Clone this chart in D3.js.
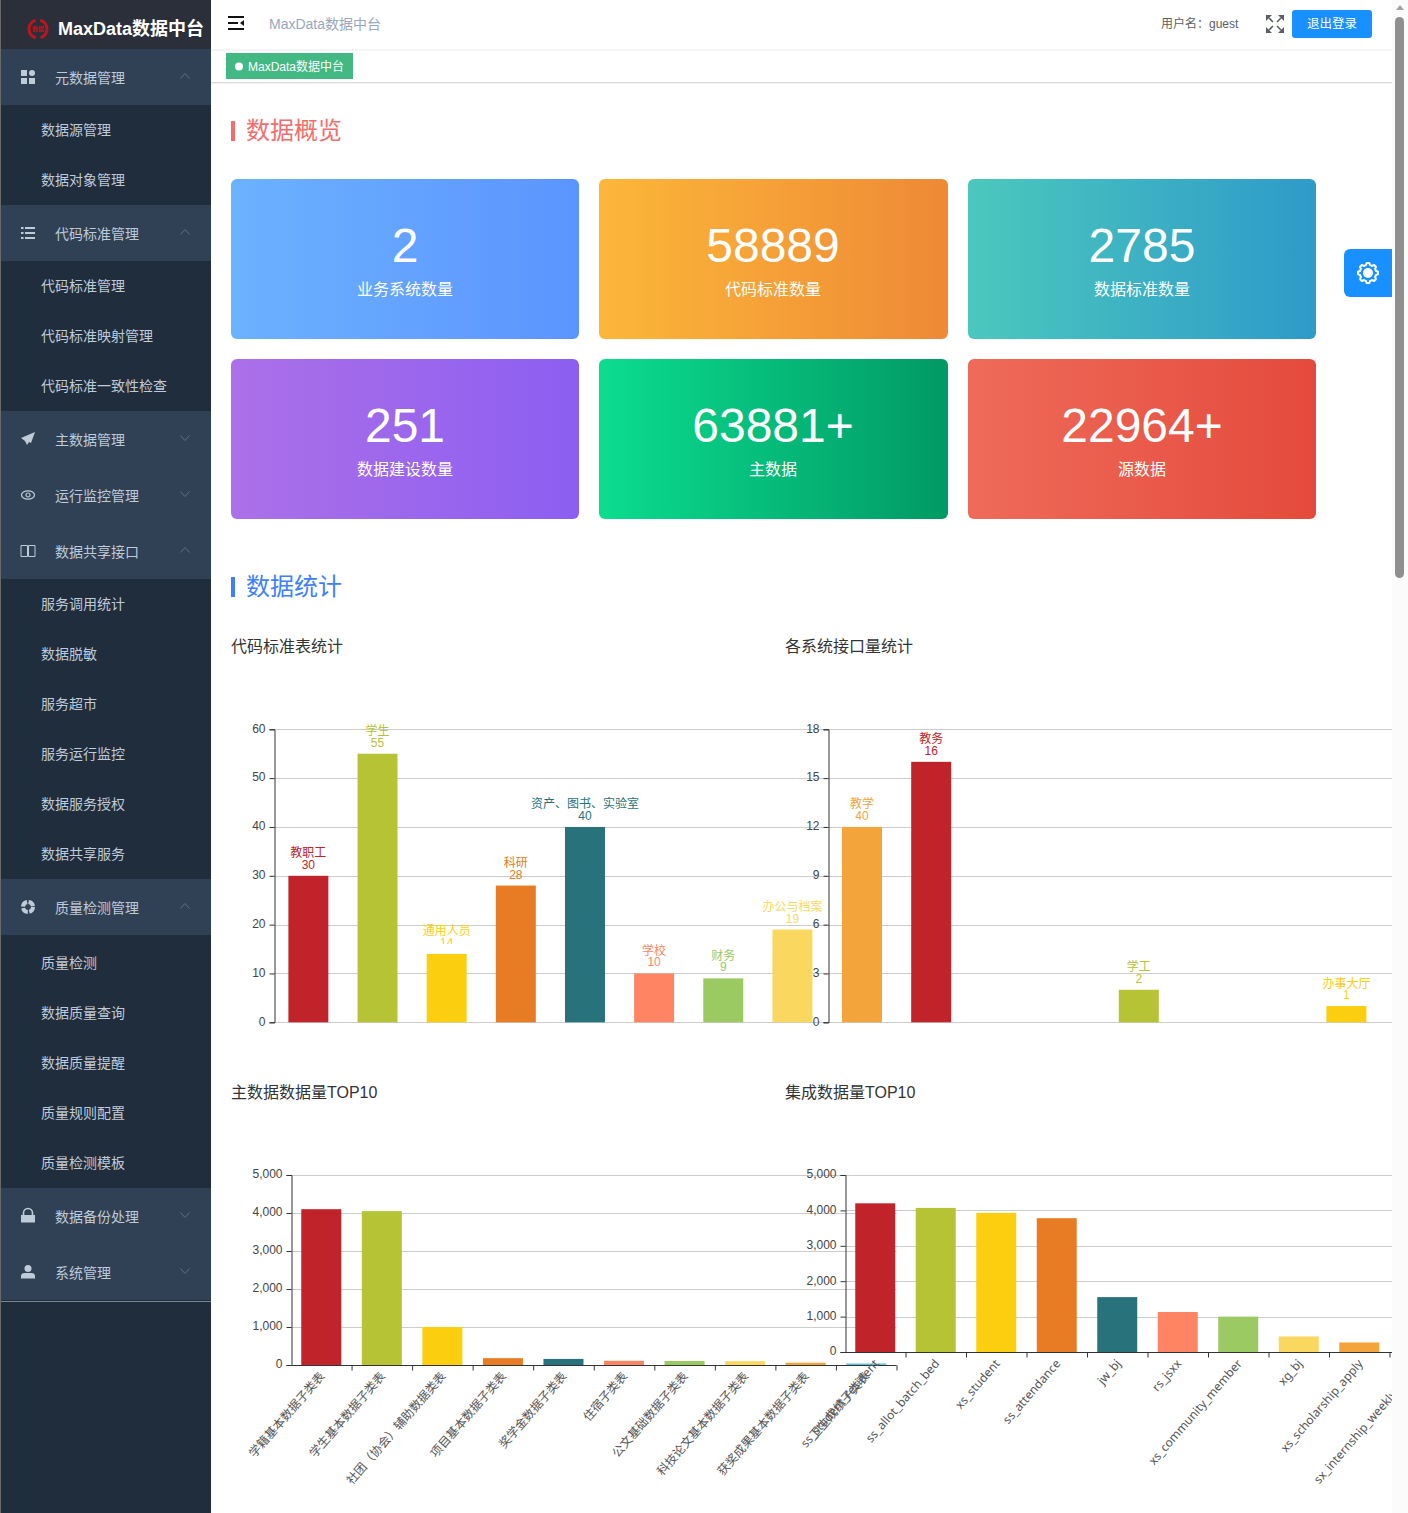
<!DOCTYPE html>
<html>
<head>
<meta charset="utf-8">
<title>MaxData数据中台</title>
<script src="https://d3js.org/d3.v7.min.js"></script>
<style>
html, body { margin: 0; padding: 0; background: #fff; overflow: hidden; }
svg { display: block; }
text { font-family: "Liberation Sans", "Noto Sans CJK SC", sans-serif; }
</style>
</head>
<body>
<div id="page"></div>
<script>
// sidebar menu
const menu = [
    { name: "元数据管理", icon: "grid", open: true, subs: ["数据源管理", "数据对象管理"] },
    { name: "代码标准管理", icon: "list", open: true, subs: ["代码标准管理", "代码标准映射管理", "代码标准一致性检查"] },
    { name: "主数据管理", icon: "plane", open: false, subs: [] },
    { name: "运行监控管理", icon: "eye", open: false, subs: [] },
    { name: "数据共享接口", icon: "book", open: true, subs: ["服务调用统计", "数据脱敏", "服务超市", "服务运行监控", "数据服务授权", "数据共享服务"] },
    { name: "质量检测管理", icon: "ring", open: true, subs: ["质量检测", "数据质量查询", "数据质量提醒", "质量规则配置", "质量检测模板"] },
    { name: "数据备份处理", icon: "lock", open: false, subs: [] },
    { name: "系统管理", icon: "user", open: false, subs: [] }
];

// overview cards
const cardNumbers = ["2", "58889", "2785", "251", "63881+", "22964+"];
const cardLabels = ["业务系统数量", "代码标准数量", "数据标准数量", "数据建设数量", "主数据", "源数据"];
const cardColors = [
    ["#6bb2ff", "#5b94ff"], ["#fcb739", "#ee8936"], ["#4bc8bd", "#2e9ac9"],
    ["#ac70e8", "#8c5ef1"], ["#0bdd8f", "#019965"], ["#ef6b59", "#e44a3c"]
];

// chart colours
const palette = ["#C1232B", "#B5C334", "#FCCE10", "#E87C25", "#27727B", "#FE8463", "#9BCA63", "#FAD860", "#F3A43B", "#60C0DD"];

// 代码标准表统计
const codeNames = ["教职工", "学生", "通用人员", "科研", "资产、图书、实验室", "学校", "财务", "办公与档案"];
const codeValues = [30, 55, 14, 28, 40, 10, 9, 19];
const codeTicks = [0, 10, 20, 30, 40, 50, 60];

// 各系统接口量统计
const apiNames = ["教学", "教务", "", "", "学工", "", "", "办事大厅"];
const apiValues = [12, 16, 0, 0, 2, 0, 0, 1];
const apiLabels = ["40", "16", "", "", "2", "", "", "1"];
const apiColors = ["#F3A43B", "#C1232B", "#FCCE10", "#E87C25", "#B5C334", "#FE8463", "#9BCA63", "#FCCE10"];
const apiTicks = [0, 3, 6, 9, 12, 15, 18];

// 主数据数据量TOP10
const masterNames = ["学籍基本数据子类表", "学生基本数据子类表", "社团（协会）辅助数据类表", "项目基本数据子类表", "奖学金数据子类表", "住宿子类表", "公文基础数据子类表", "科技论文基本数据子类表", "获奖成果基本数据子类表", "卫生成绩子类表"];
const masterValues = [4100, 4050, 1000, 180, 160, 110, 105, 100, 60, 40];

// 集成数据量TOP10
const integrationNames = ["ss_student_resident", "ss_allot_batch_bed", "xs_student", "ss_attendance", "jw_bj", "rs_jsxx", "xs_community_member", "xg_bj", "xs_scholarship_apply", "sx_internship_weekly_report"];
const integrationValues = [4200, 4070, 3930, 3780, 1550, 1130, 1000, 440, 270, 200];
const volumeTicks = [0, 1000, 2000, 3000, 4000, 5000];

const width = 1408;
const height = 1513;
const contentRight = 1392;

const root = d3.select("#page").append("svg")
    .attr("width", width)
    .attr("height", height)
    .attr("viewBox", `0 0 ${width} ${height}`);

const defs = root.append("defs");

function label(parent, x, y, str, size, color, anchor, weight) {
    return parent.append("text")
        .attr("x", x)
        .attr("y", y)
        .attr("dominant-baseline", "central")
        .attr("text-anchor", anchor || "start")
        .attr("font-size", size)
        .attr("font-weight", weight || "normal")
        .attr("fill", color)
        .text(str);
}

// ---------- charts first so the chrome sits above them ----------
const clipId = "content-clip";
defs.append("clipPath").attr("id", clipId).append("rect")
    .attr("x", 211).attr("y", 0).attr("width", contentRight - 211).attr("height", height);
const content = root.append("g").attr("clip-path", `url(#${clipId})`);

function barChart(opts) {
    const g = content.append("g");
    const n = opts.values.length;
    const y = d3.scaleLinear().domain(opts.domain).range(opts.yRange);
    const x = d3.scaleBand()
        .domain(d3.range(n))
        .range(opts.xRange)
        .paddingInner(opts.padding)
        .paddingOuter(opts.padding / 2);
    const xEdges = d3.scaleLinear().domain([0, n]).range(opts.xRange);
    const axisX = opts.axisX;

    // grid
    g.append("g").selectAll("line")
        .data(opts.ticks)
        .join("line")
        .attr("x1", axisX)
        .attr("x2", opts.gridRight || opts.xRange[1])
        .attr("y1", d => Math.round(y(d)) + 0.5)
        .attr("y2", d => Math.round(y(d)) + 0.5)
        .attr("stroke", "#ccc");

    // bars
    g.append("g").selectAll("rect")
        .data(opts.values)
        .join("rect")
        .attr("x", (d, i) => x(i))
        .attr("y", d => y(d))
        .attr("width", x.bandwidth())
        .attr("height", d => y(0) - y(d))
        .attr("fill", (d, i) => opts.colors[i]);

    // y axis
    const axisLeft = d3.axisLeft(y)
        .tickValues(opts.ticks)
        .tickSize(5)
        .tickPadding(4)
        .tickFormat(d3.format(","));
    const ay = g.append("g")
        .attr("transform", `translate(${axisX + 0.5},0)`)
        .call(axisLeft);
    ay.selectAll("path, line").attr("stroke", "#333");
    ay.selectAll("text")
        .attr("fill", "#444")
        .attr("font-size", 12)
        .attr("font-family", null)
        .attr("y", -1);

    // bar labels, name over value
    if (opts.names && opts.showLabels) {
        const lab = g.append("g");
        opts.values.forEach((v, i) => {
            if (!v) return;
            const cx = x(i) + x.bandwidth() / 2;
            const c = opts.colors[i];
            label(lab, cx, y(v) - 22.5, opts.names[i], 12, c, "middle");
            label(lab, cx, y(v) - 11, opts.valueLabels ? opts.valueLabels[i] : v, 12, c, "middle");
            if (opts.cutLabel === i) {
                lab.append("rect")
                    .attr("x", cx - 15)
                    .attr("y", y(v) - 10)
                    .attr("width", 30)
                    .attr("height", 9)
                    .attr("fill", "#fff");
            }
        });
    }

    // category axis with ticks between bars and slanted names
    if (opts.slanted) {
        const ax = g.append("g")
            .attr("transform", `translate(0,${y(0) + 0.5})`)
            .call(d3.axisBottom(xEdges).tickValues(d3.range(1, n + 1)).tickSize(5).tickFormat(""));
        ax.selectAll("path, line").attr("stroke", "#333");
        ax.select("path").attr("d", `M${axisX},0H${opts.xRange[1]}`);

        g.append("g").selectAll("text")
            .data(opts.names)
            .join("text")
            .attr("transform", (d, i) => `translate(${x(i) + x.bandwidth() / 2 + 1},${y(0) + 9}) rotate(-49)`)
            .attr("text-anchor", "end")
            .attr("dominant-baseline", "central")
            .attr("font-size", 12)
            .attr("fill", "#555")
            .style("font-family", opts.nameFont || null)
            .text(d => d);
    }
}

barChart({
    values: codeValues, names: codeNames, colors: palette, ticks: codeTicks, domain: [0, 60],
    axisX: 274, xRange: [273.8, 827], yRange: [1022.3, 729.3], padding: 0.422,
    showLabels: true, cutLabel: 2
});
barChart({
    values: apiValues, names: apiNames, colors: apiColors, ticks: apiTicks, domain: [0, 18],
    valueLabels: apiLabels,
    axisX: 828, xRange: [827.4, 1381], yRange: [1022.3, 729.3], padding: 0.422,
    gridRight: contentRight, showLabels: true
});
barChart({
    values: masterValues, names: masterNames, colors: palette, ticks: volumeTicks, domain: [0, 5000],
    axisX: 291, xRange: [291, 896.5], yRange: [1365, 1175], padding: 0.339,
    slanted: true
});
barChart({
    values: integrationValues, names: integrationNames, colors: palette, ticks: volumeTicks, domain: [0, 5000],
    axisX: 845, xRange: [845, 1450], yRange: [1352, 1175], padding: 0.339,
    slanted: true, nameFont: '"Noto Sans", "Noto Sans CJK SC", sans-serif'
});

// ---------- section headings ----------
const headings = [
    { text: "数据概览", color: "#f56c6c", cy: 131 },
    { text: "数据统计", color: "#3d7ffc", cy: 587 }
];
headings.forEach(h => {
    root.append("rect").attr("x", 231).attr("y", h.cy - 10).attr("width", 4).attr("height", 20).attr("fill", h.color);
    label(root, 246, h.cy - 0.5, h.text, 24, h.color);
});

const chartTitles = [
    { text: "代码标准表统计", x: 231, cy: 646 },
    { text: "各系统接口量统计", x: 785, cy: 646 },
    { text: "主数据数据量TOP10", x: 231, cy: 1092 },
    { text: "集成数据量TOP10", x: 785, cy: 1092 }
];
chartTitles.forEach(t => label(root, t.x, t.cy, t.text, 16, "#333"));

// ---------- cards ----------
const cardX = [231, 599, 968];
const cardY = [179, 359];
const cardW = 348;
cardNumbers.forEach((num, i) => {
    const gid = `card-grad-${i}`;
    const grad = defs.append("linearGradient").attr("id", gid);
    grad.append("stop").attr("offset", "0%").attr("stop-color", cardColors[i][0]);
    grad.append("stop").attr("offset", "100%").attr("stop-color", cardColors[i][1]);

    const x0 = cardX[i % 3];
    const y0 = cardY[Math.floor(i / 3)];
    const w = i % 3 === 1 ? cardW + 1 : cardW;
    root.append("rect")
        .attr("x", x0).attr("y", y0)
        .attr("width", w).attr("height", 160)
        .attr("rx", 6)
        .attr("fill", `url(#${gid})`);
    label(root, x0 + 174, y0 + 66, num, 48, "#fff", "middle");
    label(root, x0 + 174, y0 + 110, cardLabels[i], 16, "#fff", "middle");
});

// ---------- top bar ----------
root.append("rect").attr("x", 211).attr("y", 0).attr("width", contentRight - 211).attr("height", 49).attr("fill", "#fff");
root.append("rect").attr("x", 211).attr("y", 49).attr("width", contentRight - 211).attr("height", 2).attr("fill", "#f5f5f5");
root.append("rect").attr("x", 211).attr("y", 82).attr("width", contentRight - 211).attr("height", 1).attr("fill", "#dcdcdc");
root.append("rect").attr("x", 211).attr("y", 83).attr("width", contentRight - 211).attr("height", 1).attr("fill", "#f2f2f2");

const burger = root.append("g").attr("fill", "#111");
burger.append("rect").attr("x", 228).attr("y", 16).attr("width", 16).attr("height", 2);
burger.append("rect").attr("x", 228).attr("y", 22).attr("width", 10).attr("height", 2);
burger.append("rect").attr("x", 228).attr("y", 28).attr("width", 16).attr("height", 2);
burger.append("path").attr("d", "M244,20V26L240,23Z");

label(root, 269, 24, "MaxData数据中台", 14, "#97a8be");

root.append("rect").attr("x", 226).attr("y", 53).attr("width", 127).attr("height", 26).attr("fill", "#42b983");
root.append("circle").attr("cx", 239).attr("cy", 66.5).attr("r", 4).attr("fill", "#fff");
label(root, 248, 66.5, "MaxData数据中台", 12, "#fff");

label(root, 1161, 24, "用户名：guest", 12, "#5a5e66");

const expand = root.append("g").attr("fill", "#5a5e66").attr("stroke", "#5a5e66");
[[1266, 15, 1, 1], [1284, 15, -1, 1], [1266, 33, 1, -1], [1284, 33, -1, -1]].forEach(c => {
    const [cx, cy, sx, sy] = c;
    expand.append("path")
        .attr("stroke", "none")
        .attr("d", `M${cx},${cy}h${6 * sx}l${-6 * sx},${6 * sy}Z`);
    expand.append("line")
        .attr("x1", cx + 3 * sx).attr("y1", cy + 3 * sy)
        .attr("x2", cx + 7 * sx).attr("y2", cy + 7 * sy)
        .attr("stroke-width", 1.6);
});

root.append("rect").attr("x", 1292).attr("y", 10).attr("width", 80).attr("height", 28).attr("rx", 3).attr("fill", "#1890ff");
label(root, 1332, 24, "退出登录", 12.5, "#fff", "middle");

// settings tab
root.append("path").attr("d", "M1392,249H1350a6,6 0 0 0 -6,6V291a6,6 0 0 0 6,6H1392Z").attr("fill", "#1890ff");
const gearPoints = d3.range(0, 48).map(i => {
    const a = i / 48 * 2 * Math.PI;
    const r = (i + 1) % 6 < 3 ? 10 : 8.2;
    return [a, r];
});
root.append("path")
    .attr("transform", "translate(1368,273)")
    .attr("d", d3.lineRadial().curve(d3.curveCardinalClosed)(gearPoints))
    .attr("fill", "none")
    .attr("stroke", "#fff")
    .attr("stroke-width", 2);
root.append("circle").attr("cx", 1368).attr("cy", 273).attr("r", 5).attr("fill", "#fff");

// scrollbar
root.append("rect").attr("x", contentRight).attr("y", 0).attr("width", width - contentRight).attr("height", height).attr("fill", "#fbfbfb");
root.append("path").attr("d", "M1400,5L1404,10H1396Z").attr("fill", "#a3a3a3");
root.append("rect").attr("x", 1395).attr("y", 17).attr("width", 9).attr("height", 561).attr("rx", 4.5).attr("fill", "#8f8f8f");

// ---------- sidebar ----------
const side = root.append("g");
side.append("rect").attr("width", 211).attr("height", height).attr("fill", "#1f2d3d");
side.append("rect").attr("width", 211).attr("height", 49).attr("fill", "#2b2f3a");

const logo = side.append("g").attr("transform", "translate(38,29)");
const logoArc = d3.arc().innerRadius(7.5).outerRadius(10.5);
[[0.25, 2.85], [3.4, 6.0]].forEach(a => {
    logo.append("path")
        .attr("d", logoArc({ startAngle: a[0], endAngle: a[1] }))
        .attr("fill", "#c0141c");
});
logo.append("text")
    .attr("text-anchor", "middle").attr("dominant-baseline", "central")
    .attr("font-size", 6).attr("font-weight", "bold").attr("fill", "#c0141c").text("数据");
label(side, 58, 28.5, "MaxData数据中台", 18, "#fff", "start", "bold");

function drawIcon(g, kind, cx, cy) {
    const c = "#bfcbd9";
    const ic = g.append("g").attr("transform", `translate(${cx},${cy})`);
    if (kind === "grid") {
        [[-7, -7], [-7, 1], [1, 1]].forEach(p => ic.append("rect").attr("x", p[0]).attr("y", p[1]).attr("width", 6).attr("height", 6).attr("fill", c));
        ic.append("circle").attr("cx", 4).attr("cy", -4).attr("r", 3).attr("fill", c);
    } else if (kind === "list") {
        [-5, 0, 5].forEach(dy => {
            ic.append("rect").attr("x", -7).attr("y", dy - 1).attr("width", 2.5).attr("height", 2).attr("fill", c);
            ic.append("rect").attr("x", -3).attr("y", dy - 1).attr("width", 10).attr("height", 2).attr("fill", c);
        });
    } else if (kind === "plane") {
        ic.append("path").attr("d", "M7,-7L-7,-1L-3,2L-1,6L1,3L3,4Z").attr("fill", c);
    } else if (kind === "eye") {
        ic.append("ellipse").attr("rx", 6.5).attr("ry", 4.2).attr("fill", "none").attr("stroke", c).attr("stroke-width", 1.2);
        ic.append("circle").attr("r", 2).attr("fill", "none").attr("stroke", c).attr("stroke-width", 1.2);
    } else if (kind === "book") {
        ic.append("path").attr("d", "M-7,-5.5H-0.5V5.5H-7ZM0.5,-5.5H7V5.5H0.5Z").attr("fill", "none").attr("stroke", c);
    } else if (kind === "ring") {
        ic.append("circle").attr("r", 5).attr("fill", "none").attr("stroke", c).attr("stroke-width", 4).attr("stroke-dasharray", "6.3 1.55");
    } else if (kind === "lock") {
        ic.append("path").attr("d", "M-7,-1H7V6.5H-7Z").attr("fill", c);
        ic.append("path").attr("d", "M-4.5,-1V-3a4.5,4.5 0 0 1 9,0V-1").attr("fill", "none").attr("stroke", c).attr("stroke-width", 1.6);
    } else if (kind === "user") {
        ic.append("circle").attr("cy", -3.5).attr("r", 3.5).attr("fill", c);
        ic.append("path").attr("d", "M-7,6.5V4a4,3 0 0 1 4,-3H3a4,3 0 0 1 4,3V6.5Z").attr("fill", c);
    }
}

function drawChevron(g, open, cy) {
    const dy = open ? 2.5 : -2.5;
    g.append("path")
        .attr("d", `M180.5,${cy + dy}L185,${cy - dy}L189.5,${cy + dy}`)
        .attr("fill", "none")
        .attr("stroke", "#5f7084")
        .attr("stroke-width", 1);
}

let cursor = 49;
menu.forEach(m => {
    side.append("rect").attr("y", cursor).attr("width", 211).attr("height", 56).attr("fill", "#304156");
    drawIcon(side, m.icon, 28, cursor + 28);
    label(side, 55, cursor + 29, m.name, 14, "#bfcbd9");
    drawChevron(side, m.open, cursor + 27);
    cursor += 56;
    // the quality list sits a few pixels lower in the reference
    if (m.name === "质量检测管理") cursor += 3;
    m.subs.forEach(s => {
        label(side, 41, cursor + 24.5, s, 14, "#bfcbd9");
        cursor += 50;
    });
});
side.append("rect").attr("y", cursor + 1).attr("width", 211).attr("height", 1).attr("fill", "#7d8793");
side.append("rect").attr("width", 1).attr("height", height).attr("fill", "#6a6a6a");
</script>
</body>
</html>
